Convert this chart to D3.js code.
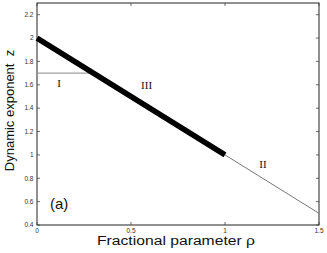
<!DOCTYPE html>
<html><head><meta charset="utf-8">
<script src="https://cdn.jsdelivr.net/npm/d3@7"></script>
<style>body{margin:0;background:#fff}svg{display:block}</style>
</head><body>
<svg id="c" width="327" height="253"></svg>
<script>
const xTicks = [0, 0.5, 1, 1.5];
const yTicks = [0.4, 0.6, 0.8, 1, 1.2, 1.4, 1.6, 1.8, 2, 2.2];
const thickRho = [0, 1];
const thickZ = [2, 1];
const thinRho = [1, 1.5];
const thinZ = [1, 0.5];
const horizRho = [0, 0.3];
const horizZ = [1.7, 1.7];
const regionLabels = ["I", "III", "II"];
const regionRho = [0.117, 0.583, 1.202];
const regionZ = [1.577, 1.565, 0.886];

const svg = d3.select("#c");
const m = {l: 37, r: 319, t: 3, b: 225};
const x = d3.scaleLinear().domain([0, 1.5]).range([m.l, m.r]);
const y = d3.scaleLinear().domain([0.4, 2.3]).range([m.b, m.t]);
const line = d3.line().x(d => x(d[0])).y(d => y(d[1]));
const zip = (a, b) => a.map((v, i) => [v, b[i]]);

// frame
svg.append("rect").attr("x", m.l).attr("y", m.t).attr("width", m.r - m.l).attr("height", m.b - m.t)
  .attr("fill", "none").attr("stroke", "#222").attr("stroke-width", 1);

const tl = 3;
const g = svg.append("g").attr("stroke", "#444").attr("stroke-width", 0.8);
xTicks.forEach(t => {
  g.append("line").attr("x1", x(t)).attr("x2", x(t)).attr("y1", m.b).attr("y2", m.b - tl);
  g.append("line").attr("x1", x(t)).attr("x2", x(t)).attr("y1", m.t).attr("y2", m.t + tl);
});
yTicks.forEach(t => {
  g.append("line").attr("y1", y(t)).attr("y2", y(t)).attr("x1", m.l).attr("x2", m.l + tl);
  g.append("line").attr("y1", y(t)).attr("y2", y(t)).attr("x1", m.r).attr("x2", m.r - tl);
});

const tf = "Liberation Sans, Arial, sans-serif";
svg.append("g").selectAll("text").data(xTicks).join("text")
  .attr("x", d => x(d)).attr("y", m.b + 7.5).attr("text-anchor", "middle")
  .attr("font-family", tf).attr("font-size", 6.5).attr("fill", "#333").text(d => d);
svg.append("g").selectAll("text").data(yTicks).join("text")
  .attr("x", m.l - 3.5).attr("y", d => y(d) + 2.3).attr("text-anchor", "end")
  .attr("font-family", tf).attr("font-size", 6.5).attr("fill", "#333").text(d => d);

// lines
svg.append("path").attr("d", line(zip(horizRho, horizZ))).attr("fill", "none").attr("stroke", "#888").attr("stroke-width", 1);
svg.append("path").attr("d", line(zip(thinRho, thinZ))).attr("fill", "none").attr("stroke", "#777").attr("stroke-width", 1);
svg.append("path").attr("d", line(zip(thickRho, thickZ))).attr("fill", "none").attr("stroke", "#000").attr("stroke-width", 5.5);

// region labels
svg.append("g").selectAll("text").data(regionLabels).join("text")
  .attr("x", (d, i) => x(regionRho[i])).attr("y", (d, i) => y(regionZ[i]))
  .attr("text-anchor", "middle").attr("font-family", "Liberation Serif, Times New Roman, serif")
  .attr("font-size", 11).attr("fill", "#111").text(d => d);

svg.append("text").attr("x", 50).attr("y", 209).attr("font-family", tf).attr("font-size", 15)
  .attr("fill", "#111").text("(a)");

svg.append("text").attr("x", 97).attr("y", 245)
  .attr("font-family", tf).attr("font-size", 12.5).attr("fill", "#111")
  .attr("textLength", 158).attr("lengthAdjust", "spacingAndGlyphs").text("Fractional parameter ρ");
svg.append("text").attr("transform", "translate(13.5,110.5) rotate(-90)").attr("text-anchor", "middle")
  .attr("font-family", tf).attr("font-size", 13).attr("fill", "#111")
  .attr("xml:space", "preserve").style("white-space", "pre").text("Dynamic exponent  z");
</script>
</body></html>
